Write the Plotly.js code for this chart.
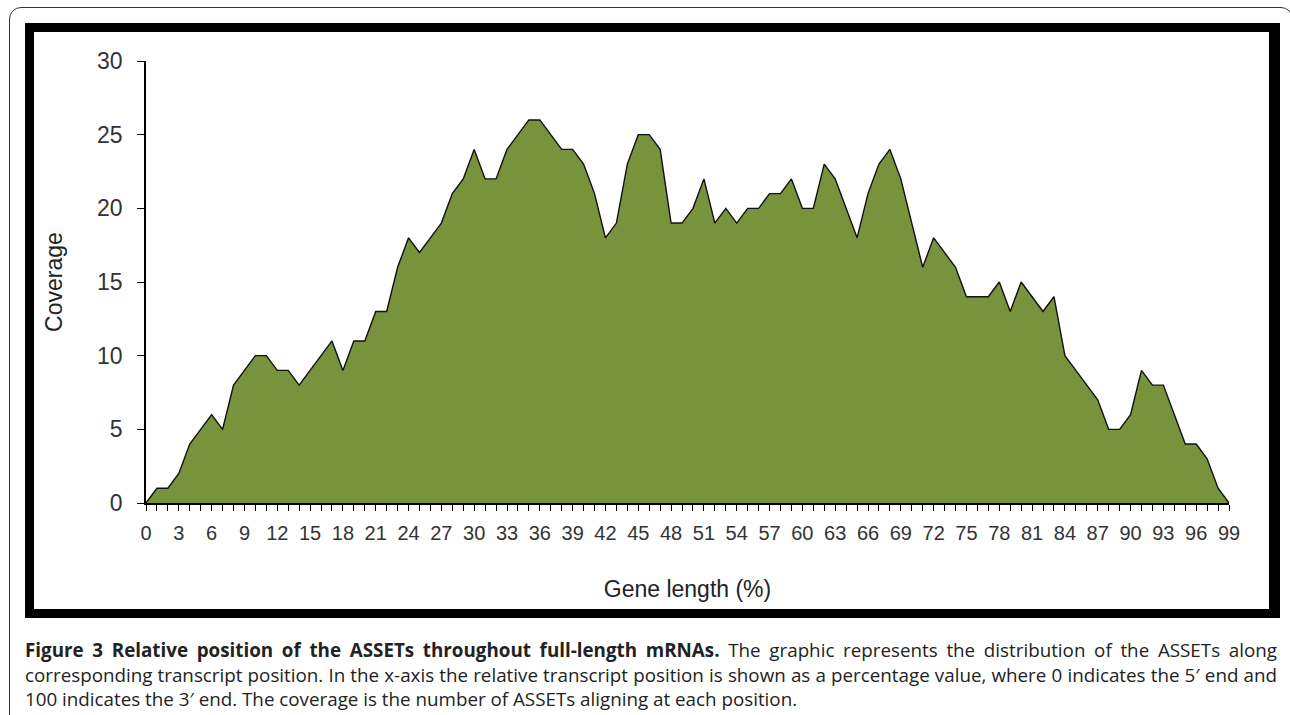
<!DOCTYPE html>
<html>
<head>
<meta charset="utf-8">
<script src="https://cdn.plot.ly/plotly-3.0.1.min.js"></script>
<style>
  html, body { margin: 0; padding: 0; background: #ffffff; width: 1290px; height: 715px; overflow: hidden; }
  #outer { position: absolute; left: 9px; top: 7px; width: 1284px; height: 760px; border: 1px solid #333; border-radius: 12px; box-sizing: border-box; }
  #frame { position: absolute; left: 25px; top: 23px; width: 1255px; height: 595px; border-style: solid; border-color: #000; border-width: 9px 11px 9px 9px; box-sizing: border-box; background: #fff; }
  #chart { position: absolute; left: 0; top: 0; width: 1290px; height: 715px; }
  #caption { position: absolute; left: 25px; top: 638px; width: 1252px; font-family: "Open Sans", sans-serif; font-size: 18.8px; line-height: 24.5px; color: #222; }
  #caption .j { text-align: justify; text-align-last: justify; white-space: nowrap; }
  #caption b { font-weight: 700; }
</style>
</head>
<body>
<div id="outer"></div>
<div id="frame"></div>
<div id="chart"></div>
<div id="caption">
  <div class="j"><b>Figure 3 Relative position of the ASSETs throughout full-length mRNAs.</b> The graphic represents the distribution of the ASSETs along</div>
  <div class="j">corresponding transcript position. In the x-axis the relative transcript position is shown as a percentage value, where 0 indicates the 5′ end and</div>
  <div>100 indicates the 3′ end. The coverage is the number of ASSETs aligning at each position.</div>
</div>
<script>
// Gene length position (%)
const positions = [0,1,2,3,4,5,6,7,8,9,10,11,12,13,14,15,16,17,18,19,20,21,22,23,24,25,26,27,28,29,30,31,32,33,34,35,36,37,38,39,40,41,42,43,44,45,46,47,48,49,50,51,52,53,54,55,56,57,58,59,60,61,62,63,64,65,66,67,68,69,70,71,72,73,74,75,76,77,78,79,80,81,82,83,84,85,86,87,88,89,90,91,92,93,94,95,96,97,98,99];

// Coverage (number of ASSETs aligning at each position)
const coverage = [0,1,1,2,4,5,6,5,8,9,
                  10,10,9,9,8,9,10,11,9,11,
                  11,13,13,16,18,17,18,19,21,22,
                  24,22,22,24,25,26,26,25,24,24,
                  23,21,18,19,23,25,25,24,19,19,
                  20,22,19,20,19,20,20,21,21,22,
                  20,20,23,22,20,18,21,23,24,22,
                  19,16,18,17,16,14,14,14,15,13,
                  15,14,13,14,10,9,8,7,5,5,
                  6,9,8,8,6,4,4,3,1,0];

const xTitle = "Gene length (%)";
const yTitle = "Coverage";
const yTicks = [0,5,10,15,20,25,30];

const trace = {
  x: positions,
  y: coverage,
  type: "scatter",
  mode: "lines",
  fill: "tozeroy",
  fillcolor: "#77933c",
  line: { color: "#111", width: 1.4, shape: "linear" },
  hoverinfo: "x+y"
};

const layout = {
  width: 1290,
  height: 715,
  margin: { l: 146, r: 60.5, t: 61, b: 212 },
  paper_bgcolor: "rgba(0,0,0,0)",
  plot_bgcolor: "rgba(0,0,0,0)",
  showlegend: false,
  font: { family: "Liberation Sans, Arial, sans-serif", color: "#333" },
  xaxis: {
    range: [0, 99],
    tick0: 0,
    dtick: 3,
    ticks: "outside",
    ticklen: 6,
    tickwidth: 1,
    tickcolor: "#000",
    ticklabelstandoff: 5,
    minor: { dtick: 1, tick0: 0, ticks: "outside", ticklen: 6, tickwidth: 1, tickcolor: "#000", showgrid: false },
    showline: true,
    linecolor: "#000",
    linewidth: 1.5,
    showgrid: false,
    zeroline: false,
    tickfont: { size: 20, color: "#333" },
    title: { text: xTitle, font: { size: 23, color: "#222" }, standoff: 38 },
    fixedrange: true
  },
  yaxis: {
    range: [0, 30],
    tickvals: yTicks,
    ticks: "outside",
    ticklen: 7,
    tickwidth: 1,
    tickcolor: "#000",
    ticklabelstandoff: 10,
    showline: true,
    linecolor: "#000",
    linewidth: 1.5,
    showgrid: false,
    zeroline: false,
    tickfont: { size: 23, color: "#333" },
    title: { text: yTitle, font: { size: 23, color: "#222" }, standoff: 28 },
    fixedrange: true
  }
};

Plotly.newPlot("chart", [trace], layout, { displayModeBar: false, responsive: false });
</script>
</body>
</html>
